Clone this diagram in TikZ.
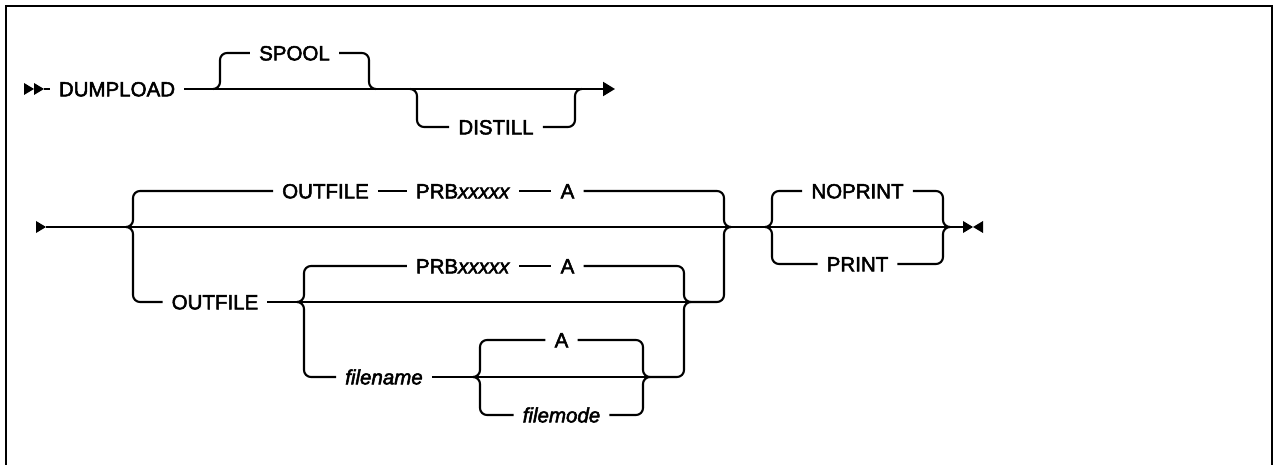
\documentclass[tikz,border=0pt]{standalone}
\usepackage{fontspec}
\setmainfont{Liberation Sans}
\newfontfamily\railfont{Liberation Sans}[FakeBold=2.5]
\usetikzlibrary{arrows.meta,positioning}
\tikzset{
  rail/.style     = {line width=2.1pt, rounded corners=7pt},
  word/.style     = {inner xsep=9pt, inner ysep=0pt, text height=14.7pt, text depth=0pt, font=\railfont\fontsize{20.5}{24}\selectfont},
  varword/.style  = {word, font=\railfont\fontsize{20.5}{24}\selectfont\itshape},
  endarrow/.style = {-{Triangle[length=12pt,width=14pt]}},
  frame/.style    = {line width=2.5pt}
}

\begin{document}
\begin{tikzpicture}[x=1pt, y=-1pt]
    \useasboundingbox (0,0) rectangle (1274,465);
    % Frame (open at the bottom)
    \draw[frame] (6,465) -- (6,6) -- (1272,6) -- (1272,465);

    % First line
    \coordinate (a0) at (44,89);
    \fill (24,83) -- (34,89) -- (24,95) -- cycle;
    \fill (34,83) -- (44,89) -- (34,95) -- cycle;
    \node[word] (dumpload) at (117,89) {DUMPLOAD};
    \coordinate (j1) at (213,89);
    \coordinate (k1) at (376,89);
    \coordinate (j2) at (410,89);
    \coordinate (k2) at (582,89);
    \coordinate (a1) at (615,89);
    \node[word] (spool) at (294.5,53) {SPOOL};
    \node[word] (distill) at (496,127) {DISTILL};
    \draw[rail] (a0) -- (dumpload);
    \draw[rail] (dumpload) -- (j1) -- (k1) -- (j2) -- (k2);
    \draw[rail,endarrow] (k2) -- (a1);
    \draw[rail] (j1) -- ++(7,0) |- (spool);
    \draw[rail] (k1) -- ++(-7,0) |- (spool);
    \draw[rail] (j2) -- ++(7,0) |- (distill);
    \draw[rail] (k2) -- ++(-7,0) |- (distill);

    % Second line
    \coordinate (b0) at (46,227);
    \fill (36,221) -- (46,227) -- (36,233) -- cycle;
    \coordinate (j3) at (126,227);
    \coordinate (k3) at (731,227);
    \coordinate (j6) at (765,227);
    \coordinate (k6) at (950,227);
    \coordinate (e0) at (963,227);
    \draw[rail] (b0) -- (j3) -- (k3) -- (j6) -- (k6) -- (e0);
    \fill (963,221) -- (973,227) -- (963,233) -- cycle;
    \fill (983,221) -- (973,227) -- (983,233) -- cycle;

    % Upper choice: OUTFILE PRBxxxxx A
    \node[word] (outfileA) at (325.5,191) {OUTFILE};
    \node[word] (prbA) at (463,191) {PRB\textit{xxxxx}};
    \node[word] (aA) at (567.5,191) {A};
    \draw[rail] (j3) -- ++(7,0) |- (outfileA);
    \draw[rail] (outfileA) -- (prbA);
    \draw[rail] (prbA) -- (aA);
    \draw[rail] (k3) -- ++(-7,0) |- (aA);

    % Lower choice: OUTFILE with its own choices
    \node[word] (outfileB) at (215,302) {OUTFILE};
    \coordinate (j4) at (297,302);
    \coordinate (k4) at (691,302);
    \draw[rail] (j3) -- ++(7,0) |- (outfileB);
    \draw[rail] (outfileB) -- (j4) -- (k4);
    \draw[rail] (k3) -- ++(-7,0) |- (k4);
    \node[word] (prbB) at (463,266) {PRB\textit{xxxxx}};
    \node[word] (aB) at (567.5,266) {A};
    \draw[rail] (j4) -- ++(7,0) |- (prbB);
    \draw[rail] (prbB) -- (aB);
    \draw[rail] (k4) -- ++(-7,0) |- (aB);
    \node[varword] (filename) at (384,377) {filename};
    \coordinate (j5) at (473,377);
    \coordinate (k5) at (650,377);
    \draw[rail] (j4) -- ++(7,0) |- (filename);
    \draw[rail] (filename) -- (j5) -- (k5);
    \draw[rail] (k4) -- ++(-7,0) |- (k5);
    \node[word] (aC) at (561.5,340) {A};
    \node[varword] (filemode) at (561.5,415) {filemode};
    \draw[rail] (j5) -- ++(7,0) |- (aC);
    \draw[rail] (k5) -- ++(-7,0) |- (aC);
    \draw[rail] (j5) -- ++(7,0) |- (filemode);
    \draw[rail] (k5) -- ++(-7,0) |- (filemode);

    % NOPRINT / PRINT
    \node[word] (noprint) at (857.5,191) {NOPRINT};
    \node[word] (print) at (857.5,264) {PRINT};
    \draw[rail] (j6) -- ++(7,0) |- (noprint);
    \draw[rail] (k6) -- ++(-7,0) |- (noprint);
    \draw[rail] (j6) -- ++(7,0) |- (print);
    \draw[rail] (k6) -- ++(-7,0) |- (print);
  \end{tikzpicture}
\end{document}
